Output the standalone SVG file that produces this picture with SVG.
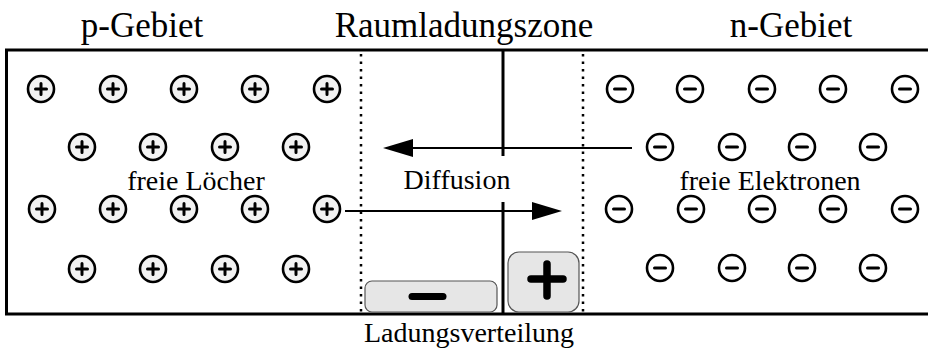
<svg xmlns="http://www.w3.org/2000/svg" width="928" height="348" viewBox="0 0 928 348">
<style>
.t{font-family:"Liberation Serif","Times New Roman",serif;fill:#000;text-anchor:middle}
.big{font-size:35px}
.sm{font-size:28px}
.frame{fill:none;stroke:#000;stroke-width:3}
.dot{stroke:#000;stroke-width:2.5;stroke-dasharray:2.5 5}
.sep{stroke:#000;stroke-width:3}
.conn{stroke:#000;stroke-width:2;fill:none}
.pc{fill:#f2f2f2;stroke:#000;stroke-width:2.6}
.nc{fill:#fff;stroke:#000;stroke-width:2.6}
.sg{stroke:#000;stroke-width:3;stroke-linecap:round}
.box{fill:#e6e6e6;stroke:#555;stroke-width:1.2}
</style>
<defs>
<g id="pos"><circle r="13" class="pc"/><path d="M-5.5 0H5.5M0 -5.5V5.5" class="sg"/></g>
<g id="neg"><circle r="13" class="nc"/><path d="M-5.5 0H5.5" class="sg"/></g>
</defs>
<rect width="928" height="348" fill="#fff"/>
<g id="titles">
<text class="t big" x="142" y="37">p-Gebiet</text>
<text class="t big" x="464" y="37">Raumladungszone</text>
<text class="t big" x="791" y="37">n-Gebiet</text>
</g>
<g id="frame">
<path class="frame" d="M928 50H6.5V314H928"/>
<line class="dot" x1="361" y1="54" x2="361" y2="312"/>
<line class="dot" x1="583" y1="54" x2="583" y2="312"/>
<line class="sep" x1="503" y1="50" x2="503" y2="156"/>
<line class="sep" x1="503" y1="202" x2="503" y2="314"/>
</g>
<g id="p-region">
<use href="#pos" x="41" y="89"/><use href="#pos" x="113" y="89"/><use href="#pos" x="184" y="89"/><use href="#pos" x="255" y="89"/><use href="#pos" x="327" y="89"/>
<use href="#pos" x="82" y="147"/><use href="#pos" x="153" y="147"/><use href="#pos" x="225" y="147"/><use href="#pos" x="296" y="147"/>
<use href="#pos" x="42" y="209"/><use href="#pos" x="113" y="209"/><use href="#pos" x="184" y="209"/><use href="#pos" x="255" y="209"/><use href="#pos" x="327" y="209"/>
<use href="#pos" x="82" y="269"/><use href="#pos" x="153" y="269"/><use href="#pos" x="225" y="269"/><use href="#pos" x="296" y="269"/>
<text class="t sm" x="196" y="190">freie Löcher</text>
</g>
<g id="n-region">
<use href="#neg" x="620" y="89"/><use href="#neg" x="690" y="89"/><use href="#neg" x="762" y="89"/><use href="#neg" x="833" y="89"/><use href="#neg" x="905" y="89"/>
<use href="#neg" x="660" y="147"/><use href="#neg" x="732" y="147"/><use href="#neg" x="802" y="147"/><use href="#neg" x="873" y="147"/>
<use href="#neg" x="619" y="209"/><use href="#neg" x="691" y="209"/><use href="#neg" x="762" y="209"/><use href="#neg" x="833" y="209"/><use href="#neg" x="905" y="209"/>
<use href="#neg" x="660" y="268"/><use href="#neg" x="732" y="268"/><use href="#neg" x="802" y="268"/><use href="#neg" x="873" y="268"/>
<text class="t sm" x="770" y="190">freie Elektronen</text>
</g>
<g id="connectors">
<line class="conn" x1="632" y1="148" x2="410" y2="148"/>
<polygon points="383,148 413,139 413,157" fill="#000"/>
<line class="conn" x1="345" y1="211" x2="534" y2="211"/>
<polygon points="562,211 532,202 532,220" fill="#000"/>
</g>
<g id="diffusion"><text class="t sm" x="457" y="189">Diffusion</text></g>
<g id="neg-charge">
<rect class="box" x="365" y="281" width="132" height="31" rx="7"/>
<path d="M412 296.5H443" stroke="#000" stroke-width="7" stroke-linecap="round"/>
</g>
<g id="pos-charge">
<rect class="box" x="508" y="252" width="71" height="60" rx="11"/>
<path d="M531 279H563M547 264V296" stroke="#000" stroke-width="7.5" stroke-linecap="round"/>
</g>
<g id="label"><text class="t sm" x="469" y="342">Ladungsverteilung</text></g>
</svg>
